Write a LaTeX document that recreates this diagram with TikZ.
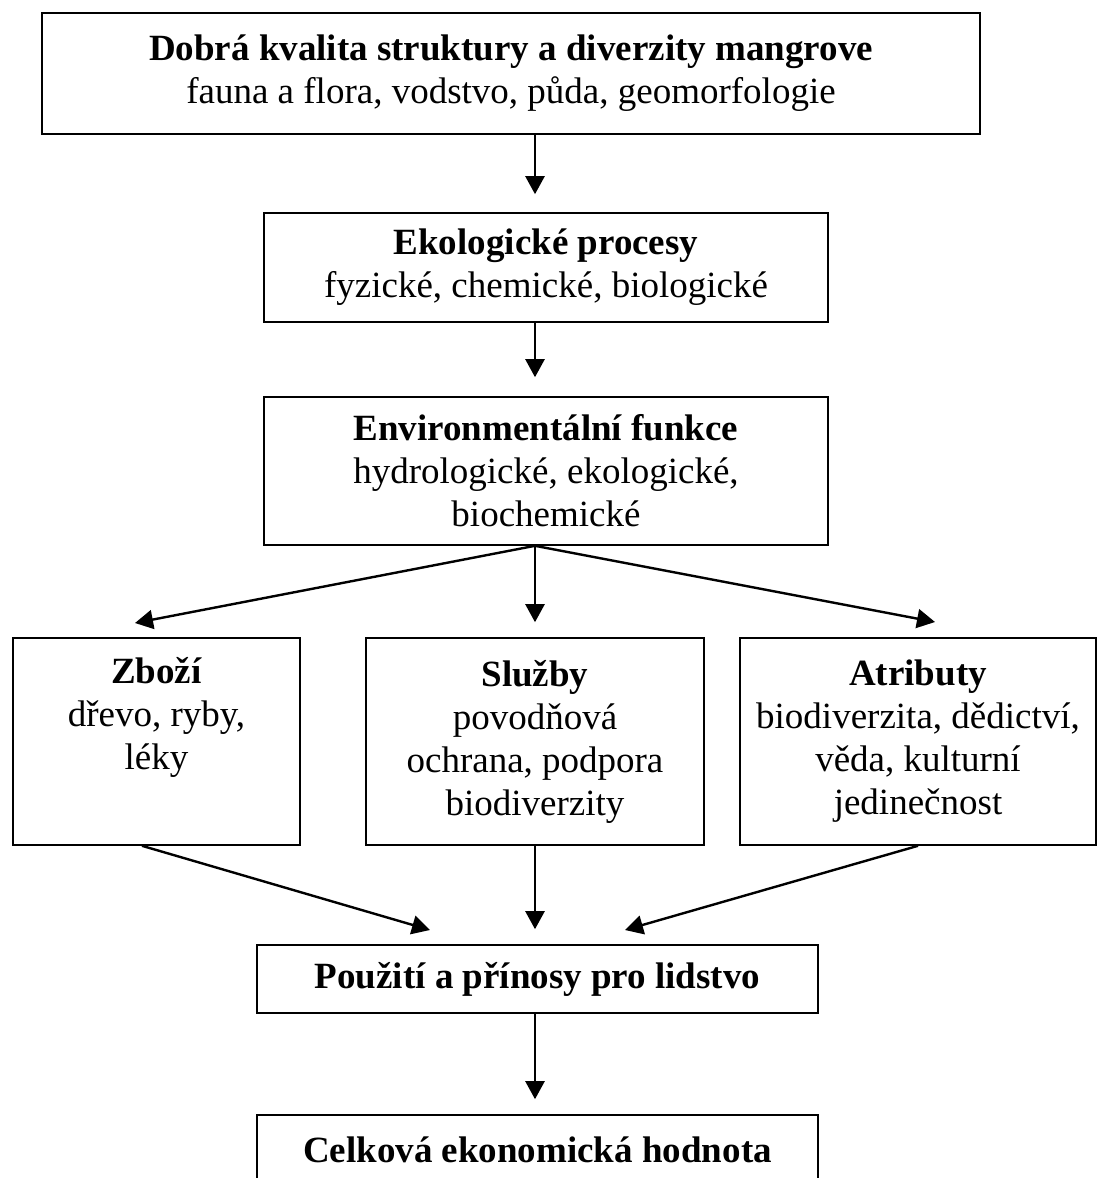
\documentclass[tikz,border=0pt]{standalone}
\usepackage{fontspec}
\setmainfont{Liberation Serif}
\usetikzlibrary{arrows.meta}
\tikzstyle{block} = [rectangle, draw, line width=0.8pt, align=center, inner sep=0pt,
    font=\fontsize{18.5}{21.5}\selectfont]
\tikzstyle{line} = [draw, line width=1.2pt, -{Triangle[length=9pt,width=9.5pt]}]

\begin{document}
\begin{tikzpicture}[x=0.5pt, y=-0.5pt]
    \useasboundingbox (0,0) rectangle (1104,1178);
    % Place nodes
    \node [block, minimum width=469pt, minimum height=60.5pt] (quality) at (511,73.5)
        {\textbf{Dobrá kvalita struktury a diverzity mangrove}\\fauna a flora, vodstvo, půda, geomorfologie};
    \node [block, minimum width=282pt, minimum height=54.5pt] (processes) at (546,267.5)
        {\textbf{Ekologické procesy}\\fyzické, chemické, biologické};
    \node [block, minimum width=282pt, minimum height=74pt] (functions) at (546,471)
        {\textbf{Environmentální funkce}\\hydrologické, ekologické,\\biochemické};
    \node [block, minimum width=143.5pt, minimum height=103.5pt] (goods) at (156.5,741.5)
        {\textbf{Zboží}\\dřevo, ryby,\\léky\\\strut};
    \node [block, minimum width=169pt, minimum height=103.5pt] (services) at (535,741.5)
        {\textbf{Služby}\\povodňová\\ochrana, podpora\\biodiverzity};
    \node [block, minimum width=178pt, minimum height=103.5pt] (attributes) at (918,741.5)
        {\textbf{Atributy}\\biodiverzita, dědictví,\\věda, kulturní\\jedinečnost};
    \node [block, minimum width=280.5pt, minimum height=34pt] (uses) at (537.5,979)
        {\textbf{Použití a přínosy pro lidstvo}};
    \node [block, minimum width=280.5pt, minimum height=35pt] (total) at (537.5,1150)
        {\textbf{Celková ekonomická hodnota}};
    % Arrow ends
    \coordinate (ax) at (535,0);
    \coordinate (goodsin) at (135,623);
    \coordinate (attrin) at (935,622);
    \coordinate (usesleft) at (430,930);
    \coordinate (usesright) at (625,930);
    % Draw edges
    \path [line, shorten >=9pt] (quality.south -| ax) -- (processes.north -| ax);
    \path [line, shorten >=9.5pt] (processes.south -| ax) -- (functions.north -| ax);
    \path [line] (functions.south -| ax) -- (goodsin);
    \path [line, shorten >=7.5pt] (functions.south -| ax) -- (services.north -| ax);
    \path [line] (functions.south -| ax) -- (attrin);
    \path [line] ([xshift=-7.25]goods.south) -- (usesleft);
    \path [line, shorten >=7.5pt] (services.south -| ax) -- (uses.north -| ax);
    \path [line] (attributes.south) -- (usesright);
    \path [line, shorten >=7.5pt] (uses.south -| ax) -- (total.north -| ax);
\end{tikzpicture}
\end{document}
